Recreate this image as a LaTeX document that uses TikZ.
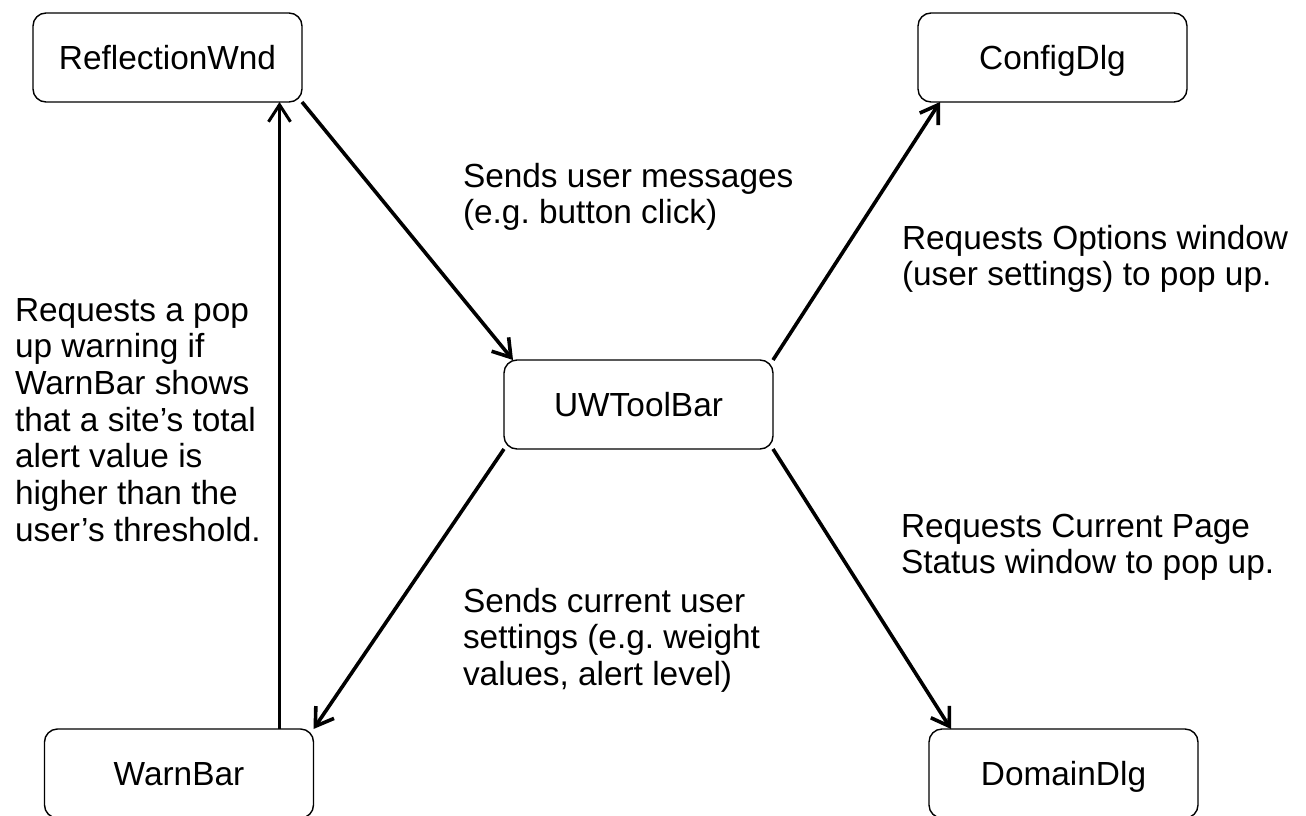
\documentclass[tikz,border=0pt]{standalone}
\usepackage{fontspec}
\setmainfont{Liberation Sans}
\usetikzlibrary{arrows.meta}
\frenchspacing
\newcommand\mylines[1]{\begin{tabular}[t]{@{}l@{}}#1\end{tabular}}
\tikzset{
  box/.style={draw=black, line width=1.4pt, rounded corners=13pt, minimum width=269pt, minimum height=89pt, inner sep=0pt, outer sep=0pt, text height=23.9pt, text depth=0pt},
  lbl/.style={anchor=base west, inner sep=0pt, outer sep=0pt},
  thickarrow/.style={line width=3.6pt, -{Straight Barb[length=17pt,width=22pt,line width=3.6pt]}},
  thinarrow/.style={line width=2.3pt, -{Straight Barb[length=17pt,width=22pt,line width=3pt]}},
}
\begin{document}
\begin{tikzpicture}[x=1pt, y=-1pt, every node/.style={font=\fontsize{33.4}{36.7}\selectfont\frenchspacing}]
\useasboundingbox (0,0) rectangle (1306,816);
\node[box] (rw) at (167.5,57.5) {ReflectionWnd};
\node[box] (cd) at (1052.5,57.5) {ConfigDlg};
\node[box] (uw) at (638.5,404.5) {UWToolBar};
\node[box] (wb) at (179,773.5) {WarnBar};
\node[box] (dd) at (1063.5,773.5) {DomainDlg};

\coordinate (vb) at ([xshift=-34pt]wb.north east);
\coordinate (vt) at (vb |- rw.south);

\draw[thickarrow] (rw.south east) -- ([xshift=9pt]uw.north west);
\draw[thinarrow] (vb) -- (vt);
\draw[thickarrow] (uw.south west) -- (wb.north east);
\draw[thickarrow] (uw.north east) -- ([xshift=22pt]cd.south west);
\draw[thickarrow] (uw.south east) -- ([xshift=22pt]dd.north west);

\node[lbl] (t1) at (463,187) {\mylines{Sends user messages\\(e.g. button click)}};
\node[lbl] (t2) at (902,249) {\mylines{Requests Options window\\(user settings) to pop up.}};
\node[lbl] (t3) at (15,321) {\mylines{Requests a pop\\up warning if\\WarnBar shows\\that a site’s total\\alert value is\\higher than the\\user’s threshold.}};
\node[lbl] (t4) at (463,612) {\mylines{Sends current user\\settings (e.g. weight\\values, alert level)}};
\node[lbl] (t5) at (901,537) {\mylines{Requests Current Page\\Status window to pop up.}};
\end{tikzpicture}
\end{document}
